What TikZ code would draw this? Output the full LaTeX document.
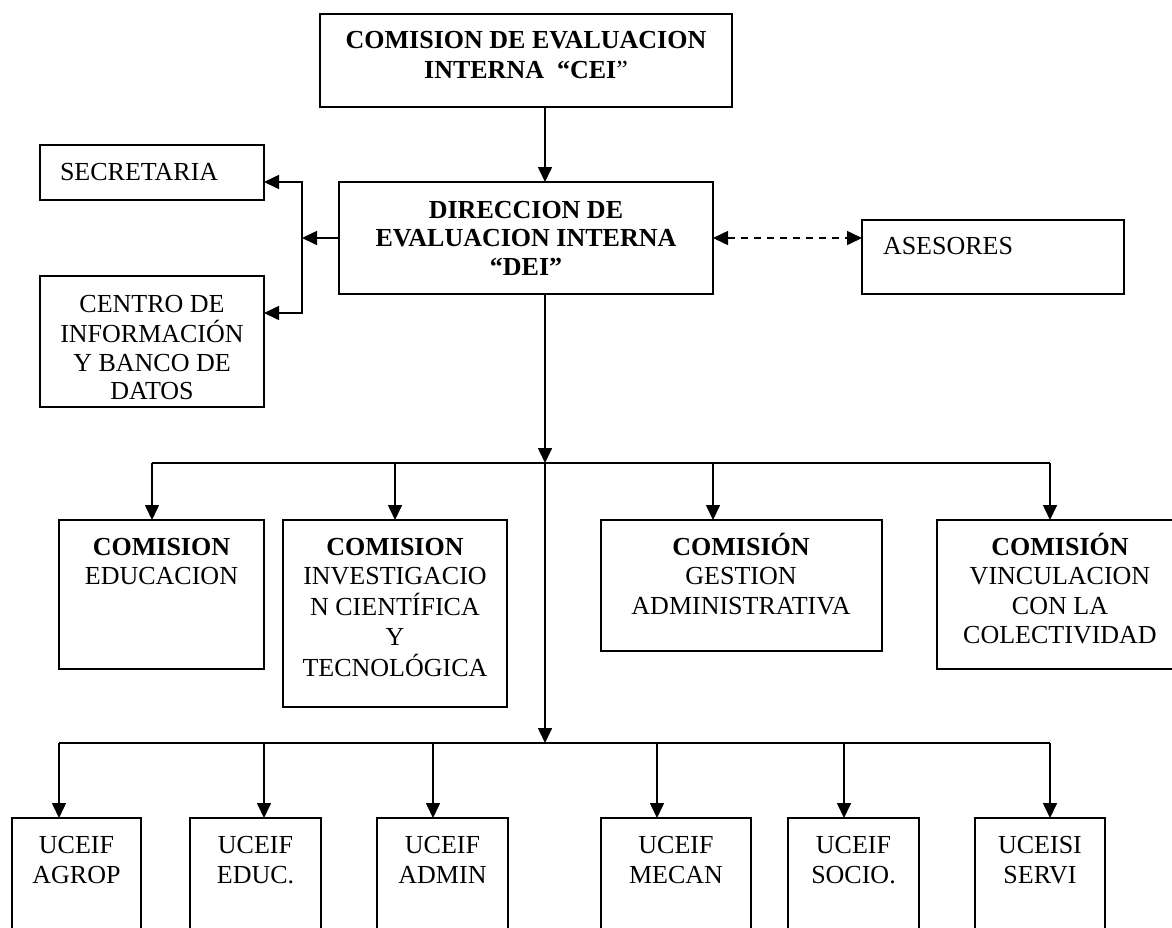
\documentclass[tikz,border=0pt]{standalone}
\usepackage{fontspec}
\setmainfont{Liberation Serif}
\usetikzlibrary{arrows.meta}
\newcommand{\mlines}[1]{\begin{tabular}[t]{@{}c@{}}#1\end{tabular}}
\tikzset{
  box/.style={draw=black, line width=1.6pt, inner sep=0pt, outer sep=0pt, anchor=north west, fill=white},
  txt/.style={inner sep=0pt, outer sep=0pt, anchor=base, font=\fontsize{26}{29.5}\selectfont},
  conn/.style={line width=1.6pt, draw=black},
  arr/.style={conn, -{Triangle[length=15pt,width=14pt]}},
  darr/.style={conn, dash pattern=on 7pt off 6pt, {Triangle[length=15pt,width=14pt]}-{Triangle[length=15pt,width=14pt]}},
}
\begin{document}
\begin{tikzpicture}[x=1pt,y=-1pt]
\useasboundingbox (0,0) rectangle (1172,927);
\fill[white] (0,0) rectangle (1172,927);
\clip (0,0) rectangle (1172,927);

% boxes
\node[box, minimum width=412pt, minimum height=93pt]  (cei)    at (320,14)  {};
\node[box, minimum width=374pt, minimum height=112pt] (dei)    at (339,182) {};
\node[box, minimum width=224pt, minimum height=55pt]  (sec)    at (40,145)  {};
\node[box, minimum width=224pt, minimum height=131pt] (centro) at (40,276)  {};
\node[box, minimum width=262pt, minimum height=74pt]  (ases)   at (862,220) {};
\node[box, minimum width=205pt, minimum height=149pt] (educ)   at (59,520)  {};
\node[box, minimum width=224pt, minimum height=187pt] (inv)    at (283,520) {};
\node[box, minimum width=281pt, minimum height=131pt] (gest)   at (601,520) {};
\node[box, minimum width=246pt, minimum height=149pt] (vinc)   at (937,520) {};
\node[box, minimum width=129pt, minimum height=130pt] (agrop)  at (12,818)  {};
\node[box, minimum width=131pt, minimum height=130pt] (educu)  at (190,818) {};
\node[box, minimum width=131pt, minimum height=130pt] (admin)  at (377,818) {};
\node[box, minimum width=150pt, minimum height=130pt] (mecan)  at (601,818) {};
\node[box, minimum width=131pt, minimum height=130pt] (socio)  at (788,818) {};
\node[box, minimum width=130pt, minimum height=130pt] (servi)  at (975,818) {};

% texts
\node[txt, font=\fontsize{26}{30}\selectfont] (tcei) at (526,48)
  {\mlines{\bfseries COMISION DE EVALUACION\\\bfseries INTERNA~~“CEI{\mdseries ”}}};
\node[txt, font=\fontsize{26}{28.5}\selectfont] (tdei) at (526,218)
  {\mlines{\bfseries DIRECCION DE\\\bfseries EVALUACION INTERNA\\\bfseries “DEI”}};
\node[txt, anchor=base west] (tsec) at (60,180) {SECRETARIA};
\node[txt, font=\fontsize{26}{28.4}\selectfont] (tcentro) at (152,312)
  {\mlines{CENTRO DE\\INFORMACIÓN\\Y BANCO DE\\DATOS}};
\node[txt, anchor=base west] (tases) at (883,254) {ASESORES};
\node[txt] (teduc) at (161.5,555) {\mlines{\bfseries COMISION\\EDUCACION}};
\node[txt] (tinv) at (395,555)
  {\mlines{\bfseries COMISION\\INVESTIGACIO\\N CIENTÍFICA\\Y\\TECNOLÓGICA}};
\node[txt] (tgest) at (741,555)
  {\mlines{\bfseries COMISIÓN\\GESTION\\ADMINISTRATIVA}};
\node[txt] (tvinc) at (1060,555)
  {\mlines{\bfseries COMISIÓN\\VINCULACION\\CON LA\\COLECTIVIDAD}};
\node[txt, font=\fontsize{26}{30}\selectfont] (tagrop) at (76.5,853) {\mlines{UCEIF\\AGROP}};
\node[txt, font=\fontsize{26}{30}\selectfont] (teducu) at (255.5,853) {\mlines{UCEIF\\EDUC.}};
\node[txt, font=\fontsize{26}{30}\selectfont] (tadmin) at (442.5,853) {\mlines{UCEIF\\ADMIN}};
\node[txt, font=\fontsize{26}{30}\selectfont] (tmecan) at (676,853) {\mlines{UCEIF\\MECAN}};
\node[txt, font=\fontsize{26}{30}\selectfont] (tsocio) at (853.5,853) {\mlines{UCEIF\\SOCIO.}};
\node[txt, font=\fontsize{26}{30}\selectfont] (tservi) at (1040,853) {\mlines{UCEISI\\SERVI}};

% junction coordinates
\coordinate (b1) at (545,463);
\coordinate (b2) at (545,743);
\coordinate (brkTop) at (302,182);
\coordinate (brkMid) at (302,238);
\coordinate (brkBot) at (302,313);
\coordinate (c1) at (152,463);
\coordinate (c2) at (395,463);
\coordinate (c3) at (713,463);
\coordinate (c4) at (1050,463);
\coordinate (d1) at (59,743);
\coordinate (d2) at (264,743);
\coordinate (d3) at (433,743);
\coordinate (d4) at (657,743);
\coordinate (d5) at (844,743);
\coordinate (d6) at (1050,743);

% connectors
\draw[arr] (cei.south -| b1) -- (dei.north -| b1);
\draw[arr] (dei.west) -- (brkMid);
\draw[conn, {Triangle[length=15pt,width=14pt]}-{Triangle[length=15pt,width=14pt]}]
  (brkTop -| sec.east) -- (brkTop) -- (brkBot) -- (brkBot -| centro.east);
\draw[darr] (dei.east) -- (dei.east -| ases.west);
\draw[arr] (dei.south -| b1) -- (b1);
\draw[arr] (b1) -- (b2);
\draw[conn] (c1) -- (c4);
\draw[arr] (c1) -- (c1 |- educ.north);
\draw[arr] (c2) -- (c2 |- inv.north);
\draw[arr] (c3) -- (c3 |- gest.north);
\draw[arr] (c4) -- (c4 |- vinc.north);
\draw[conn] (d1) -- (d6);
\draw[arr] (d1) -- (d1 |- agrop.north);
\draw[arr] (d2) -- (d2 |- educu.north);
\draw[arr] (d3) -- (d3 |- admin.north);
\draw[arr] (d4) -- (d4 |- mecan.north);
\draw[arr] (d5) -- (d5 |- socio.north);
\draw[arr] (d6) -- (d6 |- servi.north);
\end{tikzpicture}
\end{document}
